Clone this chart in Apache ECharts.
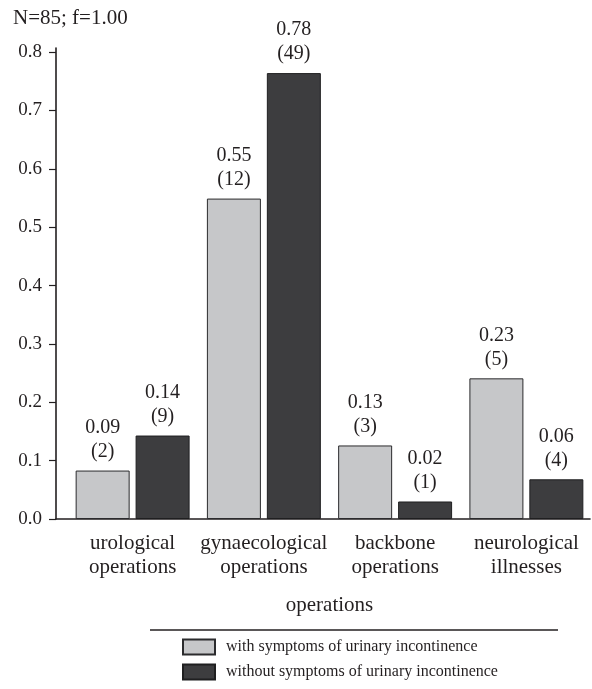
<!DOCTYPE html>
<html>
<head>
<meta charset="utf-8">
<script src="https://cdn.jsdelivr.net/npm/echarts@6/dist/echarts.min.js"></script>
<style>
  html, body { margin: 0; padding: 0; background: #fff; }
  #chart { width: 592px; height: 689px; }
</style>
</head>
<body>
<div id="chart"></div>
<script>
// Shares of patients by kind of operation

const categories = [
    'urological\noperations',
    'gynaecological\noperations',
    'backbone\noperations',
    'neurological\nillnesses'
];

// bar heights as drawn
const withSymptoms = [0.083, 0.549, 0.126, 0.241];
const withoutSymptoms = [0.143, 0.764, 0.030, 0.068];

// printed labels above each bar
const withShareText = ['0.09', '0.55', '0.13', '0.23'];
const withCounts = [2, 12, 3, 5];
const withoutShareText = ['0.14', '0.78', '0.02', '0.06'];
const withoutCounts = [9, 49, 1, 4];

const yTicks = [0, 0.1, 0.2, 0.3, 0.4, 0.5, 0.6, 0.7, 0.8];

const seriesNames = [
    'with symptoms of urinary incontinence',
    'without symptoms of urinary incontinence'
];

const FONT = '"Liberation Serif", "DejaVu Serif", serif';
const INK = '#231f20';

const chart = echarts.init(document.getElementById('chart'), null, { renderer: 'canvas' });

const labelStyle = (shares, counts) => ({
    show: true,
    position: 'top',
    distance: 7,
    fontFamily: FONT,
    fontSize: 20,
    lineHeight: 24,
    color: INK,
    formatter: (p) => shares[p.dataIndex] + '\n(' + counts[p.dataIndex] + ')'
});

const option = {
    animation: false,
    backgroundColor: '#fff',
    title: {
        text: 'N=85; f=1.00',
        left: 8,
        top: 3,
        textStyle: { fontFamily: FONT, fontSize: 21, fontWeight: 'normal', color: INK }
    },
    legend: {
        data: seriesNames,
        orient: 'vertical',
        left: 177,
        top: 633,
        itemWidth: 32,
        itemHeight: 15,
        itemGap: 7,
        icon: 'rect',
        textStyle: { fontFamily: FONT, fontSize: 16, lineHeight: 18, color: INK, padding: [0, 0, 0, 6] }
    },
    grid: [
        { left: 67, right: 0, top: 48, bottom: 170 },
        { left: 56, right: 2, top: 48, bottom: 170 }
    ],
    xAxis: [
        {
            type: 'category',
            gridIndex: 0,
            data: categories,
            name: 'operations',
            nameLocation: 'middle',
            nameGap: 76,
            nameTextStyle: { fontFamily: FONT, fontSize: 21, color: INK },
            axisLine: { show: false },
            axisTick: { show: false },
            axisLabel: {
                margin: 12,
                fontFamily: FONT,
                fontSize: 21,
                lineHeight: 24,
                color: INK,
                interval: 0
            }
        },
        {
            type: 'value',
            gridIndex: 1,
            min: 0,
            max: 1,
            axisLine: { show: true, lineStyle: { color: INK, width: 1.6 } },
            axisTick: { show: false },
            axisLabel: { show: false },
            splitLine: { show: false }
        }
    ],
    yAxis: [
        {
            type: 'value',
            gridIndex: 0,
            min: 0,
            max: 0.807,
            offset: 11,
            axisLine: { show: true, lineStyle: { color: INK, width: 1.6 } },
            axisTick: {
                show: true,
                length: 7,
                customValues: yTicks,
                lineStyle: { color: INK, width: 1.2 }
            },
            axisLabel: {
                customValues: yTicks,
                margin: 14,
                fontFamily: FONT,
                fontSize: 19,
                color: INK,
                formatter: (v) => v.toFixed(1)
            },
            splitLine: { show: false }
        },
        { type: 'value', gridIndex: 1, show: false }
    ],
    graphic: [
        {
            type: 'line',
            shape: { x1: 150, y1: 630, x2: 558, y2: 630 },
            style: { stroke: INK, lineWidth: 1.5 }
        }
    ],
    series: [
        {
            name: seriesNames[0],
            type: 'bar',
            xAxisIndex: 0,
            yAxisIndex: 0,
            data: withSymptoms,
            barWidth: 54,
            barGap: '11%',
            itemStyle: { color: '#c6c7c9', borderColor: '#2b2b2d', borderWidth: 1 },
            label: labelStyle(withShareText, withCounts)
        },
        {
            name: seriesNames[1],
            type: 'bar',
            xAxisIndex: 0,
            yAxisIndex: 0,
            data: withoutSymptoms,
            barWidth: 54,
            barGap: '11%',
            itemStyle: { color: '#3d3d3f', borderColor: '#1f1f20', borderWidth: 1 },
            label: labelStyle(withoutShareText, withoutCounts)
        }
    ]
};

chart.setOption(option);
</script>
</body>
</html>
